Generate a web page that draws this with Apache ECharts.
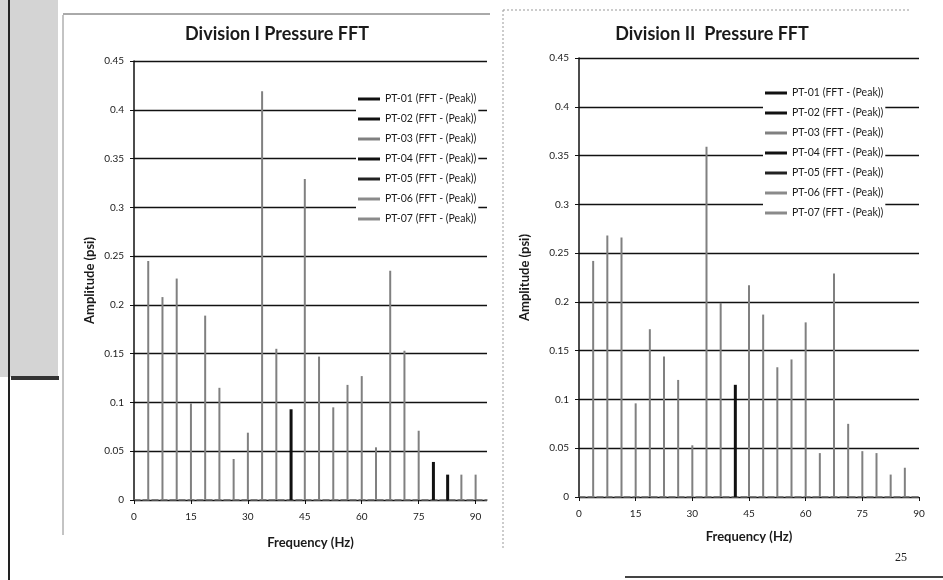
<!DOCTYPE html>
<html>
<head>
<meta charset="utf-8">
<script src="https://cdn.jsdelivr.net/npm/echarts@6/dist/echarts.min.js"></script>
<style>
  html, body { margin: 0; padding: 0; background: #fff; }
  #main { width: 943px; height: 580px; }
</style>
</head>
<body>
<div id="main"></div>
<script>
// harmonic frequencies (Hz) where the peaks sit
var freqHz = [3.75, 7.5, 11.25, 15, 18.75, 22.5, 26.25, 30, 33.75, 37.5, 41.25, 45,
              48.75, 52.5, 56.25, 60, 63.75, 67.5, 71.25, 75, 78.75, 82.5, 86.25, 90];

// Division I peaks (psi)
var div1Gray = [0.245, 0.208, 0.227, 0.099, 0.189, 0.115, 0.042, 0.069, 0.419, 0.155, null, 0.329,
                0.147, 0.095, 0.118, 0.127, 0.054, 0.235, 0.153, 0.071, null, null, 0.026, 0.026];
var div1Dark = [null, null, null, null, null, null, null, null, null, null, 0.093, null,
                null, null, null, null, null, null, null, null, 0.039, 0.026, null, null];

// Division II peaks (psi)
var div2Gray = [0.242, 0.268, 0.266, 0.096, 0.172, 0.144, 0.120, 0.053, 0.359, 0.199, null, 0.217,
                0.187, 0.133, 0.141, 0.179, 0.045, 0.229, 0.075, 0.047, 0.045, 0.023, 0.030, null];
var div2Dark = [null, null, null, null, null, null, null, null, null, null, 0.115, null,
                null, null, null, null, null, null, null, null, null, null, null, null];

var seriesNames = ['PT-01 (FFT - (Peak))', 'PT-02 (FFT - (Peak))', 'PT-03 (FFT - (Peak))',
                   'PT-04 (FFT - (Peak))', 'PT-05 (FFT - (Peak))', 'PT-06 (FFT - (Peak))',
                   'PT-07 (FFT - (Peak))'];
var seriesColors = ['#111', '#111', '#808080', '#111', '#222', '#8a8a8a', '#8a8a8a'];

var FONT = 'Lato';

function pairs(vals) {
  var out = [];
  for (var i = 0; i < freqHz.length; i++) {
    if (vals[i] != null) out.push([freqHz[i], vals[i]]);
  }
  return out;
}

function buildSeries(gi, gray, dark) {
  return seriesNames.map(function (name, k) {
    var data = [];
    if (k === 2) data = pairs(gray);
    if (k === 3) data = pairs(dark);
    return {
      name: name,
      type: 'bar',
      xAxisIndex: gi,
      yAxisIndex: gi,
      barWidth: k === 3 ? 3 : 2,
      barGap: '-100%',
      itemStyle: { color: seriesColors[k] },
      data: data,
      z: k === 3 ? 5 : 3
    };
  });
}

function yAx(gi, gap) {
  return {
    type: 'value', gridIndex: gi, min: 0, max: 0.45, interval: 0.05,
    name: 'Amplitude (psi)', nameLocation: 'middle', nameGap: gap, nameRotate: 90,
    nameTextStyle: { fontFamily: FONT, fontWeight: 'bold', fontSize: 13, color: '#1a1a1a' },
    axisLine: { show: true, lineStyle: { color: '#111', width: 1.5 } },
    axisTick: { show: true, length: 4, lineStyle: { color: '#111' } },
    axisLabel: { fontFamily: FONT, fontSize: 10, color: '#1a1a1a', margin: 10 },
    splitLine: { lineStyle: { color: '#111', width: 1.3 } }
  };
}

function xAx(gi, max, gap) {
  return {
    type: 'value', gridIndex: gi, min: 0, max: max, interval: 15,
    name: 'Frequency (Hz)', nameLocation: 'middle', nameGap: gap,
    nameTextStyle: { fontFamily: FONT, fontWeight: 'bold', fontSize: 13, color: '#1a1a1a' },
    axisLine: { show: true, lineStyle: { color: '#666', width: 1.5, type: 'dashed' } },
    axisTick: { show: true, length: 4, lineStyle: { color: '#111' } },
    axisLabel: { fontFamily: FONT, fontSize: 10, color: '#1a1a1a', margin: 12, showMaxLabel: max === 90 },
    splitLine: { show: false }
  };
}

function legendFor(left, top) {
  return {
    orient: 'vertical', left: left, top: top,
    backgroundColor: '#fff', padding: [4, 2, 4, 2],
    icon: 'rect', itemWidth: 22, itemHeight: 3, itemGap: 8,
    textStyle: { fontFamily: FONT, fontSize: 10.5, color: '#1a1a1a', lineHeight: 12 },
    data: seriesNames
  };
}

var chart = echarts.init(document.getElementById('main'));
var option = {
  backgroundColor: '#fff',
  animation: false,
  title: [
    { text: 'Division I Pressure FFT', left: 272, top: 20, textAlign: 'center',
      textStyle: { fontFamily: FONT, fontWeight: 'bold', fontSize: 18, color: '#1a1a1a' } },
    { text: 'Division II  Pressure FFT', left: 707, top: 20, textAlign: 'center',
      textStyle: { fontFamily: FONT, fontWeight: 'bold', fontSize: 18, color: '#1a1a1a' } }
  ],
  legend: [legendFor(356, 89), legendFor(763, 83)],
  grid: [
    { left: 134, top: 61, width: 353, height: 439 },
    { left: 579, top: 58, width: 340, height: 439 }
  ],
  xAxis: [xAx(0, 93, 36), xAx(1, 90, 33)],
  yAxis: [yAx(0, 38), yAx(1, 48)],
  series: buildSeries(0, div1Gray, div1Dark).concat(buildSeries(1, div2Gray, div2Dark)),
  graphic: [
    // scanned page margins and frames
    { type: 'rect', shape: { x: 0, y: 0, width: 58, height: 377 }, style: { fill: '#d4d4d4' }, silent: true },
    { type: 'rect', shape: { x: 11, y: 376, width: 48, height: 4 }, style: { fill: '#333' }, silent: true },
    { type: 'line', shape: { x1: 9, y1: 0, x2: 9, y2: 580 }, style: { stroke: '#222', lineWidth: 2 }, silent: true },
    { type: 'line', shape: { x1: 63, y1: 15, x2: 63, y2: 535 }, style: { stroke: '#888', lineWidth: 1 }, silent: true },
    { type: 'line', shape: { x1: 63, y1: 14, x2: 490, y2: 14 }, style: { stroke: '#555', lineWidth: 1 }, silent: true },
    { type: 'line', shape: { x1: 503, y1: 10, x2: 503, y2: 550 }, style: { stroke: '#999', lineWidth: 1, lineDash: [2, 2] }, silent: true },
    { type: 'line', shape: { x1: 503, y1: 10, x2: 910, y2: 10 }, style: { stroke: '#999', lineWidth: 1, lineDash: [2, 2] }, silent: true },
    { type: 'line', shape: { x1: 625, y1: 577, x2: 943, y2: 577 }, style: { stroke: '#444', lineWidth: 2 }, silent: true },
    { type: 'text', left: 895, top: 552, style: { text: '25', font: '12px "Liberation Serif"', fill: '#222' }, silent: true }
  ]
};
chart.setOption(option);
</script>
</body>
</html>
